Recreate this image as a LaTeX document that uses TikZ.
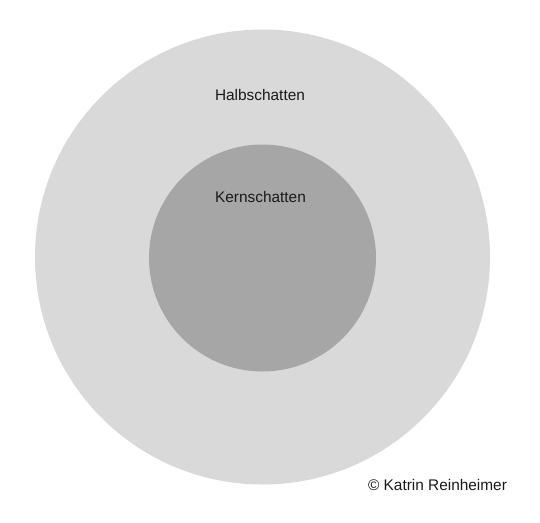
\documentclass[tikz,border=0pt]{standalone}
\usepackage{fontspec}
\setmainfont{Liberation Sans}
\definecolor{halb}{HTML}{D9D9D9}
\definecolor{kern}{HTML}{A6A6A6}
\definecolor{txt}{HTML}{1A1A1A}
\tikzset{
  lbl/.style={text=txt, font=\fontsize{15.4}{18}\selectfont, inner sep=0pt},
}
\begin{document}
\begin{tikzpicture}[x=1pt,y=-1pt]
\useasboundingbox (0,0) rectangle (540,522);
\fill[white] (0,0) rectangle (540,522);
\node[circle, fill=halb, minimum size=455pt, inner sep=0pt] (halbschatten) at (262.5,257) {};
\node[circle, fill=kern, minimum size=227pt, inner sep=0pt] (kernschatten) at (262.5,258) {};
\node[lbl] (t1) at (260,94.5) {Halbschatten};
\node[lbl] (t2) at (260.5,197) {Kernschatten};
\node[lbl] (t3) at (437.5,485) {© Katrin Reinheimer};
\end{tikzpicture}
\end{document}
